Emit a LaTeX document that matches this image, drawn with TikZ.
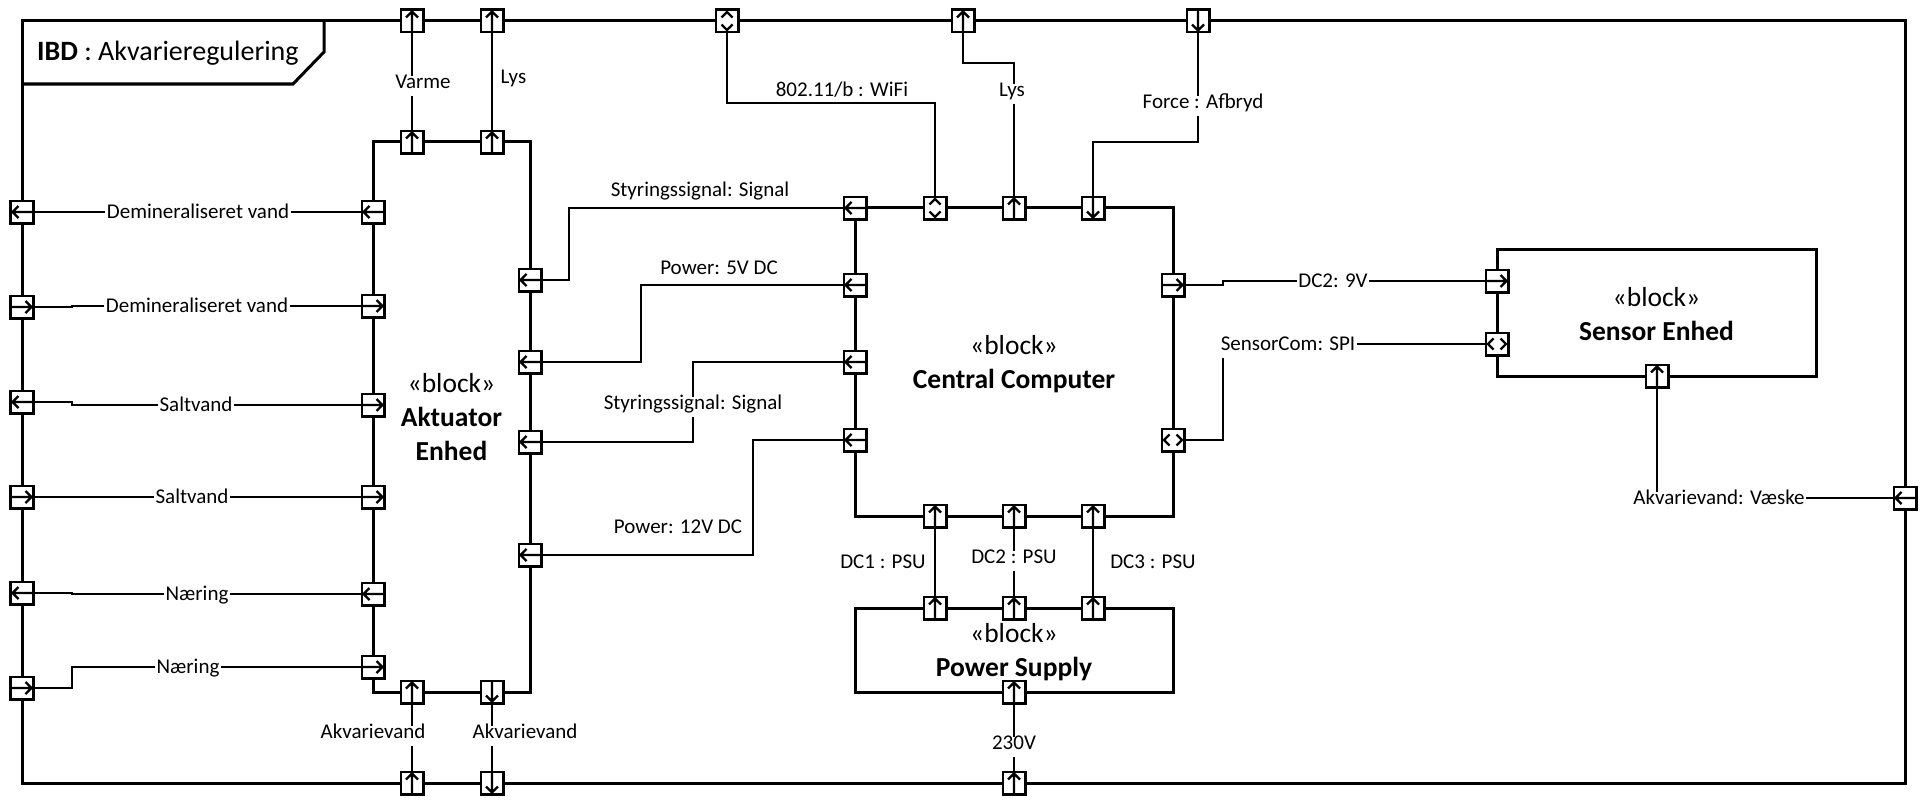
\documentclass[tikz,border=0pt]{standalone}
\usepackage{fontspec}
\setmainfont{Carlito}
\newcommand\mkport[4]{%
  \node[port] (#1) at (#2,#3) {};
  \begin{scope}[shift={(#1.center)},rotate=#4]
    \draw[parrow] (-11,0) -- (9.5,0) (3.5,-6) -- (9.5,0) -- (3.5,6);
  \end{scope}}
\newcommand\mkchev[4]{%
  \node[port] (#1) at (#2,#3) {};
  \begin{scope}[shift={(#1.center)},rotate=#4]
    \draw[parrow] (-3.5,-5.5) -- (-9,0) -- (-3.5,5.5) (3.5,-5.5) -- (9,0) -- (3.5,5.5);
  \end{scope}}
\begin{document}
\begin{tikzpicture}[x=1bp,y=-1bp,
  frame/.style={line width=3bp},
  blk/.style={draw,line width=3bp,inner sep=0pt},
  btxt/.style={inner sep=0pt,align=center,font=\fontsize{27.5bp}{34bp}\selectfont},
  conn/.style={line width=1.2bp},
  port/.style={draw,fill=white,line width=2.8bp,minimum size=22.2bp,inner sep=0pt,outer sep=0pt},
  parrow/.style={line width=2.4bp,line join=miter},
  lblnf/.style={font=\fontsize{21bp}{25bp}\selectfont,inner sep=1.5bp,
     text height=0.75em,text depth=0.1em,yshift=-3bp},
  lbl/.style={lblnf,fill=white,inner xsep=1.5bp,inner ysep=5bp,text depth=0.2em,yshift=-1bp},
]
\useasboundingbox (0,0) rectangle (1928,810);
\fill[white] (0,0) rectangle (1928,810);

% frame
\draw[frame] (22,21) rectangle (1905,783);
\draw[frame] (22,84) -- (293,84) -- (324,52) -- (324,21);
\node[anchor=base west,font=\fontsize{28bp}{33bp}\selectfont,inner sep=0pt] (title) at (37,61) {\textbf{IBD} : Akvarieregulering};

% blocks
\node[blk,minimum width=157bp,minimum height=550bp] (act) at (451.5,417) {};
\node[blk,minimum width=318bp,minimum height=308bp] (cc) at (1014,362) {};
\node[blk,minimum width=318bp,minimum height=84bp] (ps) at (1014,650) {};
\node[blk,minimum width=319bp,minimum height=127bp] (sens) at (1656.5,312.5) {};
\node[btxt] (actT) at (451.5,417) {«block»\\\textbf{Aktuator}\\\textbf{Enhed}};
\node[btxt] (ccT) at (1014,364.5) {«block»\\\textbf{Central Computer}};
\node[btxt] (psT) at (1014,652.5) {«block»\\\textbf{Power Supply}};
\node[btxt] (sensT) at (1656.5,314) {«block»\\\textbf{Sensor Enhed}};

% ports: top frame
\mkport{tVarme}{412}{21}{90}
\mkport{tLys}{492}{21}{90}
\mkchev{tWifi}{727}{21}{90}
\mkport{tLys2}{963}{21}{90}
\mkport{tForce}{1198}{21}{270}
% aktuator top
\mkport{aVarme}{412}{142}{90}
\mkport{aLys}{492}{142}{90}
% left frame
\mkport{l1}{22}{212}{180}
\mkport{l2}{22}{307}{0}
\mkport{l3}{22}{402}{180}
\mkport{l4}{22}{497}{0}
\mkport{l5}{22}{593}{180}
\mkport{l6}{22}{688}{0}
% aktuator left
\mkport{al1}{373}{212}{180}
\mkport{al2}{373}{306}{0}
\mkport{al3}{373}{405}{0}
\mkport{al4}{373}{497}{0}
\mkport{al5}{373}{594}{180}
\mkport{al6}{373}{667}{0}
% aktuator right
\mkport{ar1}{530}{280}{180}
\mkport{ar2}{530}{362}{180}
\mkport{ar3}{530}{442}{180}
\mkport{ar4}{530}{555}{180}
% aktuator bottom
\mkport{ab1}{412}{692}{90}
\mkport{ab2}{492}{692}{270}
% bottom frame
\mkport{b1}{412}{783}{90}
\mkport{b2}{492}{783}{270}
\mkport{b3}{1014}{783}{90}
% central computer
\mkport{ccC}{855}{208}{180}
\mkchev{ccWifi}{935}{208}{90}
\mkport{ccLys}{1014}{208}{90}
\mkport{ccForce}{1093}{208}{270}
\mkport{ccL1}{855}{285}{180}
\mkport{ccL2}{855}{362}{180}
\mkport{ccL3}{855}{440}{180}
\mkport{ccR1}{1173}{285}{0}
\mkchev{ccR2}{1173}{440}{0}
\mkport{ccB1}{935}{516}{90}
\mkport{ccB2}{1014}{516}{90}
\mkport{ccB3}{1093}{516}{90}
% power supply
\mkport{psT1}{935}{608}{90}
\mkport{psT2}{1014}{608}{90}
\mkport{psT3}{1093}{608}{90}
\mkport{psB}{1014}{692}{90}
% sensor
\mkport{sL1}{1497}{281}{0}
\mkchev{sL2}{1497}{344}{0}
\mkport{sB}{1657}{376}{90}
% right frame
\mkport{rF}{1905}{498}{180}

% connectors
\draw[conn] (tVarme) -- (aVarme);
\draw[conn] (tLys) -- (aLys);
\draw[conn] (tWifi) |- (935,103) -- (ccWifi);
\draw[conn] (tLys2) |- (1014,63) -- (ccLys);
\draw[conn] (tForce) |- (1093,142) -- (ccForce);
\draw[conn] (l1) -- (al1);
\draw[conn] (l2) -| (72,306) -- (al2);
\draw[conn] (l3) -| (72,405) -- (al3);
\draw[conn] (l4) -- (al4);
\draw[conn] (l5) -| (72,594) -- (al5);
\draw[conn] (l6) -| (72,667) -- (al6);
\draw[conn] (ab1) -- (b1);
\draw[conn] (ab2) -- (b2);
\draw[conn] (ccC) -| (569,280) -- (ar1);
\draw[conn] (ccL1) -| (641,362) -- (ar2);
\draw[conn] (ccL2) -| (693,442) -- (ar3);
\draw[conn] (ccL3) -| (753,555) -- (ar4);
\draw[conn] (ccB1) -- (psT1);
\draw[conn] (ccB2) -- (psT2);
\draw[conn] (ccB3) -- (psT3);
\draw[conn] (psB) -- (b3);
\draw[conn] (ccR1) -| (1223,281) -- (sL1);
\draw[conn] (ccR2) -| (1223,344) -- (sL2);
\draw[conn] (rF) -| (sB);

% labels
\node[lbl] (tVarmeL) at (423,82) {Varme};
\node[lblnf,anchor=west] (tLysL) at (499,77) {Lys};
\node[lbl] (r1L) at (198,212) {Demineraliseret vand};
\node[lbl] (r2L) at (197,306) {Demineraliseret vand};
\node[lbl] (r3L) at (196,405) {Saltvand};
\node[lbl] (r4L) at (192,497) {Saltvand};
\node[lbl] (r5L) at (197,594) {Næring};
\node[lbl] (r6L) at (188,667) {Næring};
\node[lbl] (ab1L) at (373,732) {Akvarievand};
\node[lbl] (ab2L) at (525,732) {Akvarievand};
\node[lblnf] (styr1L) at (700,190) {Styringssignal: Signal};
\node[lblnf] (p5L) at (719,268) {Power: 5V DC};
\node[lbl] (styr2L) at (693,403) {Styringssignal: Signal};
\node[lblnf] (p12L) at (678,527) {Power: 12V DC};
\node[lblnf] (wifiL) at (842,90) {802.11/b : WiFi};
\node[lbl] (lys2L) at (1012,90) {Lys};
\node[lbl] (forceL) at (1203,102) {Force : Afbryd};
\node[lblnf] (dc1L) at (883,562) {DC1 : PSU};
\node[lbl] (dc2L) at (1014,557) {DC2 : PSU};
\node[lblnf] (dc3L) at (1153,562) {DC3 : PSU};
\node[lbl] (v230L) at (1014,743) {230V};
\node[lbl] (dc9L) at (1333,281) {DC2: 9V};
\node[lbl] (spiL) at (1288,344) {SensorCom: SPI};
\node[lbl] (vaeskeL) at (1719,498) {Akvarievand: Væske};
\end{tikzpicture}
\end{document}
